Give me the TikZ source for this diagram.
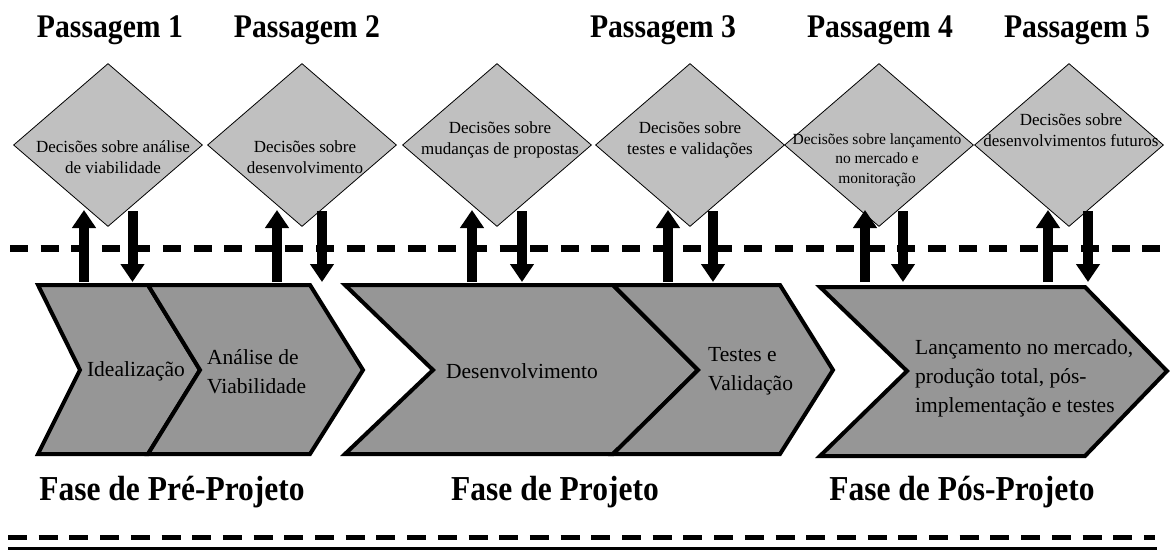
\documentclass[tikz,border=0pt]{standalone}
\usepackage{fontspec}
\setmainfont{Liberation Serif}
\newfontfamily\condfont[FakeStretch=0.9]{Liberation Serif}
\usetikzlibrary{arrows.meta,shapes.geometric}
\definecolor{diagray}{RGB}{192,192,192}
\definecolor{chevgray}{RGB}{150,150,150}
\begin{document}
\begin{tikzpicture}[x=1pt,y=-1pt,
 dia/.style={diamond,draw=black,line width=0.8pt,fill=diagray,minimum width=189pt,minimum height=163pt,inner sep=0pt},
 dtext/.style={font=\fontsize{17}{21.5}\selectfont,align=center,inner sep=0pt},
 chev/.style={draw=black,line width=4pt,fill=chevgray,line join=miter},
 ctext/.style={font=\fontsize{21.5}{29}\selectfont,align=left,inner sep=0pt},
 ptitle/.style={font=\condfont\bfseries\fontsize{33}{36}\selectfont,anchor=base,inner sep=0pt},
 phase/.style={font=\condfont\bfseries\fontsize{35}{40}\selectfont,anchor=base,inner sep=0pt},
 vert/.style={line width=10pt,-{Triangle[width=23pt,length=18pt]}},
 topdash/.style={line width=7pt,dash pattern=on 18pt off 12.6pt},
 botdash/.style={line width=5pt,dash pattern=on 19pt off 11.7pt},
]
\useasboundingbox (0,0) rectangle (1171,550);

% titles
\node[ptitle] (p1) at (110,37) {Passagem 1};
\node[ptitle] (p2) at (307,37) {Passagem 2};
\node[ptitle] (p3) at (663,37) {Passagem 3};
\node[ptitle] (p4) at (880,37) {Passagem 4};
\node[ptitle] (p5) at (1077,37) {Passagem 5};

% diamonds
\node[dia] (d1) at (108,145) {};
\node[dia] (d2) at (302,145) {};
\node[dia] (d3) at (497,145) {};
\node[dia] (d4) at (690,145) {};
\node[dia] (d5) at (879,145) {};
\node[dia] (d6) at (1069,145) {};
\node[dtext] (t1) at (113,157) {Decisões sobre análise\\de viabilidade};
\node[dtext] (t2) at (305,157) {Decisões sobre\\desenvolvimento};
\node[dtext] (t3) at (500,140) {Decisões sobre\\mudanças de propostas};
\node[dtext] (t4) at (690,140) {Decisões sobre\\testes e validações};
\node[dtext,font=\fontsize{15.5}{19.5}\selectfont] (t5) at (877,160) {Decisões sobre lançamento\\no mercado e\\monitoração};
\node[dtext] (t6) at (1071,130) {Decisões sobre\\desenvolvimentos futuros};

% dashed separator
\coordinate (la) at (10,248);
\coordinate (lb) at (1160,248);
\draw[topdash] (la) -- (lb);

% chevrons
\draw[chev] (38,285) -- (148,285) -- (200,370) -- (148,454) -- (38,454) -- (80,370) -- cycle;
\draw[chev] (148,285) -- (310,285) -- (363,370) -- (310,454) -- (148,454) -- (200,370) -- cycle;
\draw[chev] (345,285) -- (613,285) -- (698,370) -- (613,454) -- (345,454) -- (433,370) -- cycle;
\draw[chev] (613,285) -- (780,285) -- (833,370) -- (780,454) -- (613,454) -- (698,370) -- cycle;
\draw[chev] (820,287) -- (1085,287) -- (1167,371) -- (1085,456) -- (820,456) -- (907,371) -- cycle;

\node[ctext] (c1) at (136,371) {Idealização};
\node[ctext,anchor=west] (c2) at (207,372) {Análise de\\Viabilidade};
\node[ctext] (c3) at (522,371) {Desenvolvimento};
\node[ctext,anchor=west] (c4) at (708,371) {Testes e\\Validação};
\node[ctext,anchor=west] (c5) at (915,378) {Lançamento no mercado,\\produção total, pós-\\implementação e testes};

% arrows
\foreach \u/\d [count=\i] in {84/132.5, 277/322, 472/522, 668/713, 865/903, 1048/1088}{
  \coordinate (ua\i) at (\u,282);
  \coordinate (ub\i) at (\u,210);
  \coordinate (da\i) at (\d,211);
  \coordinate (db\i) at (\d,282);
  \draw[vert] (ua\i) -- (ub\i);
  \draw[vert] (da\i) -- (db\i);
}

% phases
\node[phase] (f1) at (172,500) {Fase de Pré-Projeto};
\node[phase] (f2) at (555,500) {Fase de Projeto};
\node[phase] (f3) at (962,500) {Fase de Pós-Projeto};

% bottom lines
\coordinate (ba) at (8,537);
\coordinate (bb) at (1155,537);
\draw[botdash] (ba) -- (bb);
\coordinate (sa) at (8,548);
\coordinate (sb) at (1157,548);
\draw[line width=3pt] (sa) -- (sb);
\end{tikzpicture}
\end{document}
